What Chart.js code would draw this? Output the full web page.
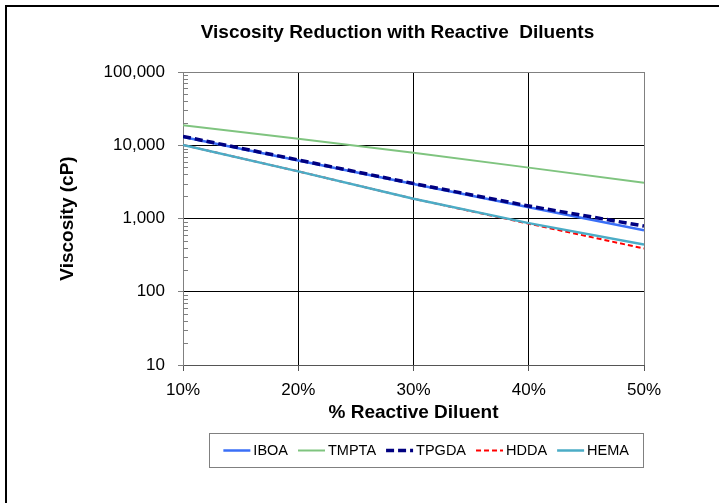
<!DOCTYPE html>
<html>
<head>
<meta charset="utf-8">
<script src="https://cdn.jsdelivr.net/npm/chart.js@4"></script>
<style>
    html, body { margin: 0; padding: 0; background: #fff; }
    #wrap { position: relative; width: 719px; height: 503px; overflow: hidden; }
    #frame { position: absolute; left: 5px; top: 5px; width: 800px; height: 600px;
             border-left: 2px solid #000; border-top: 2px solid #000; }
    #viscosity-chart { position: absolute; left: 0; top: 0; }
</style>
</head>
<body>
<div id="wrap">
    <div id="frame"></div>
    <canvas id="viscosity-chart" width="719" height="503"></canvas>
</div>
<script>
// % reactive diluent
const diluentPercent = [10, 20, 30, 40, 50];

// viscosity (cP)
const iboaValues = [13000, 6200, 2950, 1420, 690];
const tmptaValues = [18800, 12300, 7900, 4950, 3080];
const tpgdaValues = [13200, 6300, 3000, 1480, 790];
const hddaValues = [10100, 4400, 1860, 850, 390];
const hemaValues = [10100, 4400, 1860, 865, 440];

const xTickValues = [10, 20, 30, 40, 50];
const yTickValues = [10, 100, 1000, 10000, 100000];

const seriesNames = ["IBOA", "TMPTA", "TPGDA", "HDDA", "HEMA"];
const chartTitle = "Viscosity Reduction with Reactive  Diluents";

const FONT = "Arial, 'Liberation Sans', sans-serif";

function toPoints(values) {
    return values.map((v, i) => ({ x: diluentPercent[i], y: v }));
}

// Excel centres the title over the whole chart object, which is wider than the crop
const titlePlugin = {
    id: "excelTitle",
    afterDraw(chart) {
        const ctx = chart.ctx;
        const area = chart.chartArea;
        ctx.save();
        ctx.font = "bold 19px " + FONT;
        ctx.fillStyle = "#000";
        ctx.textAlign = "center";
        ctx.textBaseline = "middle";
        ctx.fillText(chartTitle, (area.left + area.right) / 2 - 16, area.top - 39);
        ctx.restore();
    },
};

// little inside tick marks between the decades on the log axis
const minorTicksPlugin = {
    id: "minorTicks",
    afterDraw(chart) {
        const y = chart.scales.y;
        const left = chart.chartArea.left;
        const ctx = chart.ctx;
        ctx.save();
        ctx.strokeStyle = "#7f7f7f";
        ctx.lineWidth = 1;
        for (let d = yTickValues[0]; d < yTickValues[yTickValues.length - 1]; d *= 10) {
            for (let k = 2; k <= 9; k++) {
                const py = Math.round(y.getPixelForValue(d * k)) + 0.5;
                ctx.beginPath();
                ctx.moveTo(left, py);
                ctx.lineTo(left + 5, py);
                ctx.stroke();
            }
        }
        ctx.restore();
    },
};

// boxed legend under the x axis title
const boxLegendPlugin = {
    id: "boxLegend",
    afterDraw(chart) {
        const ctx = chart.ctx;
        const area = chart.chartArea;
        const sampleW = 27, gap = 3, itemGap = 10, padX = 14;
        ctx.save();
        ctx.font = "14.5px " + FONT;
        const items = chart.data.datasets.map((ds) => ({
            ds: ds,
            w: sampleW + gap + ctx.measureText(ds.label).width,
        }));
        let total = padX * 2 + items.reduce((s, it) => s + it.w, 0) + itemGap * (items.length - 1);
        const boxRight = area.right - 1;
        const boxLeft = boxRight - total;
        const boxTop = area.bottom + 68;
        const boxH = 34;
        ctx.strokeStyle = "#808080";
        ctx.lineWidth = 1;
        ctx.strokeRect(Math.round(boxLeft) + 0.5, boxTop + 0.5, Math.round(total), boxH);

        const cy = boxTop + boxH / 2 + 0.5;
        let x = boxLeft + padX;
        items.forEach((it) => {
            ctx.beginPath();
            ctx.strokeStyle = it.ds.borderColor;
            ctx.lineWidth = it.ds.borderWidth;
            ctx.setLineDash(it.ds.borderDash || []);
            ctx.moveTo(x, cy);
            ctx.lineTo(x + sampleW, cy);
            ctx.stroke();
            ctx.setLineDash([]);
            ctx.fillStyle = "#000";
            ctx.textBaseline = "middle";
            ctx.textAlign = "left";
            ctx.fillText(it.ds.label, x + sampleW + gap, cy);
            x += it.w + itemGap;
        });
        ctx.restore();
    },
};

const chartCanvas = document.getElementById("viscosity-chart");

const viscosityChart = new Chart(chartCanvas, {
    type: "line",
    data: {
        datasets: [
            {
                label: seriesNames[0],
                data: toPoints(iboaValues),
                borderColor: "#3a6ff7",
                borderWidth: 2.5,
                order: 4,
            },
            {
                label: seriesNames[1],
                data: toPoints(tmptaValues),
                borderColor: "#7fc47f",
                borderWidth: 2,
                order: 5,
            },
            {
                label: seriesNames[2],
                data: toPoints(tpgdaValues),
                borderColor: "#000080",
                borderWidth: 3.5,
                borderDash: [8, 4],
                order: 2,
            },
            {
                label: seriesNames[3],
                data: toPoints(hddaValues),
                borderColor: "#ff0000",
                borderWidth: 2,
                borderDash: [5, 3],
                order: 3,
            },
            {
                label: seriesNames[4],
                data: toPoints(hemaValues),
                borderColor: "#4bacc6",
                borderWidth: 2.5,
                order: 1,
            },
        ],
    },
    options: {
        responsive: false,
        animation: false,
        events: [],
        elements: {
            point: { radius: 0 },
            line: { tension: 0, borderCapStyle: "butt" },
        },
        layout: {
            padding: { left: 0, right: 75, top: 72, bottom: 76 },
        },
        scales: {
            x: {
                type: "linear",
                min: 10,
                max: 50,
                afterBuildTicks: (scale) => {
                    scale.ticks = xTickValues.map((v) => ({ value: v }));
                },
                afterFit: (scale) => {
                    scale.height = 62;
                },
                ticks: {
                    color: "#000",
                    padding: 9,
                    maxRotation: 0,
                    font: { family: FONT, size: 17 },
                    callback: (v) => v + "%",
                },
                grid: {
                    color: (c) => (c.tick && (c.tick.value === 10 || c.tick.value === 50) ? "#808080" : "#000"),
                    tickColor: "#555",
                    tickLength: 6,
                    lineWidth: 1,
                },
                border: { display: true, color: "#555", width: 1 },
                title: {
                    display: true,
                    text: "% Reactive Diluent",
                    color: "#000",
                    font: { family: FONT, size: 19, weight: "bold" },
                    padding: { top: 0, bottom: 3 },
                },
            },
            y: {
                type: "logarithmic",
                min: 10,
                max: 100000,
                afterBuildTicks: (scale) => {
                    scale.ticks = yTickValues.map((v) => ({ value: v }));
                },
                afterFit: (scale) => {
                    scale.width = 183;
                },
                ticks: {
                    color: "#000",
                    padding: 13,
                    font: { family: FONT, size: 17 },
                    callback: (v) => Number(v).toLocaleString("en-US"),
                },
                grid: {
                    color: (c) => (c.tick && (c.tick.value === 100000) ? "#808080" : (c.tick && c.tick.value === 10 ? "#555" : "#000")),
                    tickColor: "#808080",
                    tickLength: 5,
                    lineWidth: 1,
                },
                border: { display: true, color: "#808080", width: 1 },
                title: {
                    display: true,
                    text: "Viscosity (cP)",
                    color: "#000",
                    font: { family: FONT, size: 19, weight: "bold" },
                    padding: { top: 56, bottom: 0 },
                },
            },
        },
        plugins: {
            title: { display: false },
            legend: { display: false },
            tooltip: { enabled: false },
        },
    },
    plugins: [titlePlugin, minorTicksPlugin, boxLegendPlugin],
});
</script>
</body>
</html>
